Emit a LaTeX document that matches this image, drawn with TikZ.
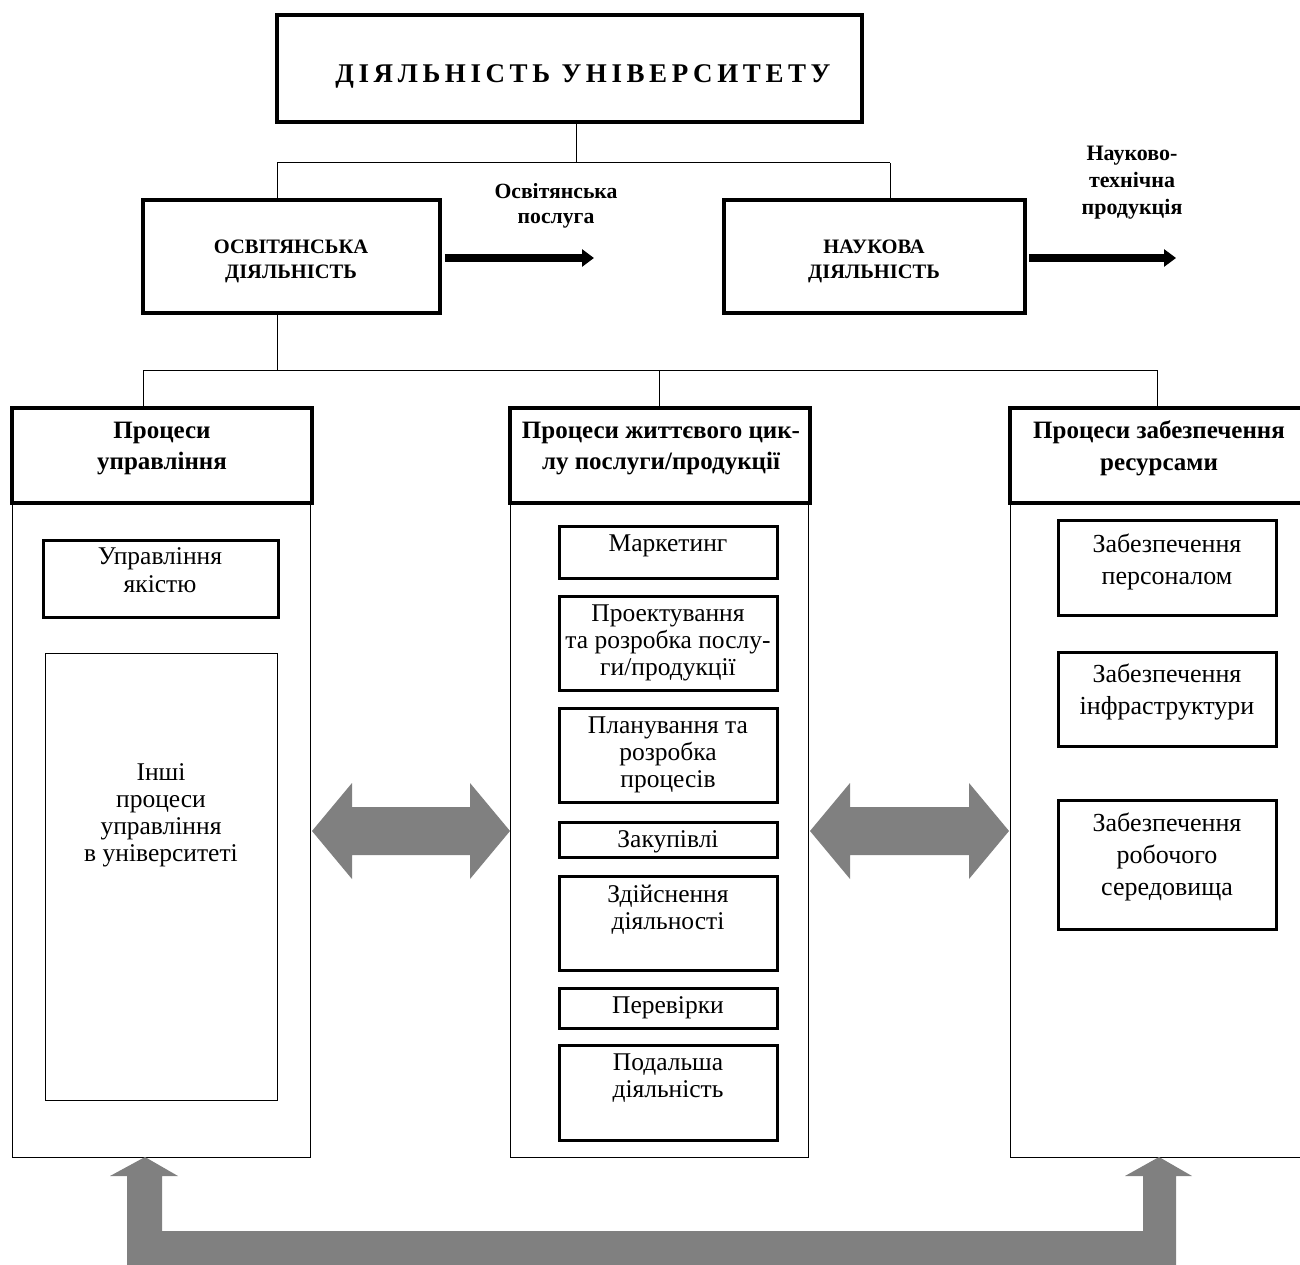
\documentclass[tikz,border=0pt]{standalone}
\usepackage{fontspec}
\setmainfont{Liberation Serif}
\newfontfamily\spacedfont[LetterSpace=17]{Liberation Serif}
\usetikzlibrary{arrows.meta}
\tikzset{
  thickbox/.style={draw, line width=3.5pt, inner sep=0pt, rectangle},
  innerbox/.style={draw, line width=3pt, inner sep=0pt, rectangle},
  thinbox/.style={draw, line width=1pt, inner sep=0pt, rectangle},
  conn/.style={line width=1pt},
  blackarrow/.style={line width=7pt, -{Triangle[length=12pt,width=17pt]}},
  txt/.style={align=center, inner sep=0pt},
  midbold/.style={txt, font=\fontsize{20.5}{25}\selectfont\bfseries},
  lblbold/.style={txt, font=\fontsize{21.7}{25}\selectfont\bfseries},
  lblboldb/.style={txt, font=\fontsize{22}{27}\selectfont\bfseries},
  headbold/.style={txt, font=\fontsize{25}{31.7}\selectfont\bfseries},
  coltwo/.style={txt, font=\fontsize{25.5}{27}\selectfont},
  colone/.style={txt, font=\fontsize{25.5}{28}\selectfont},
  colthree/.style={txt, font=\fontsize{26}{32}\selectfont},
  bigarrow/.style={fill=black!50, draw=none}
}
\begin{document}
\begin{tikzpicture}[x=1pt, y=-1pt]
\useasboundingbox (0,0) rectangle (1300,1265);
\clip (0,0) rectangle (1300,1265);
\fill[white] (0,0) rectangle (1300,1265);

% top
\node[thickbox, minimum width=585pt, minimum height=107pt] (top) at (569.5,68.5) {};
\node[txt, font=\fontsize{27}{30}\spacedfont\bfseries] (toptxt) at (583,76) {ДІЯЛЬНІСТЬ УНІВЕРСИТЕТУ};

% second level
\node[thickbox, minimum width=297pt, minimum height=113pt] (osv) at (291.5,256.5) {};
\node[midbold] (osvtxt) at (291,261) {ОСВІТЯНСЬКА\\ДІЯЛЬНІСТЬ};
\node[thickbox, minimum width=301pt, minimum height=113pt] (nauk) at (874.5,256.5) {};
\node[midbold] (nauktxt) at (874,261) {НАУКОВА\\ДІЯЛЬНІСТЬ};

\coordinate (busC) at (576,163);
\coordinate (busL) at (277,163);
\coordinate (busR) at (890,163);
\draw[conn] (top.south -| busC) -- (busC);
\draw[conn] (busL) -- (busR);
\draw[conn] (busL) -- (busL |- osv.north);
\draw[conn] (busR) -- (busR |- nauk.north);

% outputs
\coordinate (out1) at (594,258);
\coordinate (out2) at (1176,258);
\draw[blackarrow] ([xshift=3pt,yshift=-1.5pt]osv.east) -- (out1);
\draw[blackarrow] ([xshift=2pt,yshift=-1.5pt]nauk.east) -- (out2);
\node[lblbold] (lab1) at (556,205.7) {Освітянська\\послуга};
\node[lblboldb] (lab2) at (1132,182.5) {Науково-\\технічна\\продукція};

% columns
\node[thinbox, minimum width=298pt, minimum height=654pt] (b1) at (161,830) {};
\node[thinbox, minimum width=298pt, minimum height=654pt] (b2) at (659,830) {};
\node[thinbox, minimum width=300pt, minimum height=654pt] (b3) at (1160,830) {};
\node[thickbox, fill=white, minimum width=300pt, minimum height=95pt] (h1) at (162,455.5) {};
\node[thickbox, fill=white, minimum width=300pt, minimum height=95pt] (h2) at (660,455.5) {};
\node[thickbox, fill=white, minimum width=300pt, minimum height=95pt] (h3) at (1160,455.5) {};
\node[headbold] (h1txt) at (162,448.4) {Процеси\\управління};
\node[headbold] (h2txt) at (661,448.4) {Процеси життєвого цик-\\лу послуги/продукції};
\node[headbold] (h3txt) at (1159,448.4) {Процеси забезпечення\\ресурсами};

\coordinate (bus2T) at (277,370);
\coordinate (bus2L) at (143,370);
\coordinate (bus2M) at (659,370);
\coordinate (bus2R) at (1157,370);
\draw[conn] (osv.south -| bus2T) -- (bus2T);
\draw[conn] (bus2L) -- (bus2R);
\draw[conn] (bus2L) -- (bus2L |- h1.north);
\draw[conn] (bus2M) -- (bus2M |- h2.north);
\draw[conn] (bus2R) -- (bus2R |- h3.north);

% column 1 content
\node[innerbox, minimum width=235pt, minimum height=77pt] (qual) at (160.5,578.5) {};
\node[colone] (qualtxt) at (160,570.5) {Управління\\якістю};
\node[thinbox, minimum width=232pt, minimum height=447pt] (other) at (161,876.5) {};
\node[coltwo] (othertxt) at (161,815.3) {Інші\\процеси\\управління\\в університеті};

% column 2 content
\node[innerbox, minimum width=218pt, minimum height=52pt] (mk) at (668,552) {};
\node[coltwo] (mktxt) at (668,545.8) {Маркетинг};
\node[innerbox, minimum width=218pt, minimum height=94pt] (pr) at (668,643) {};
\node[coltwo] (prtxt) at (668,642.8) {Проектування\\та розробка послу-\\ги/продукції};
\node[innerbox, minimum width=218pt, minimum height=94pt] (pl) at (668,755) {};
\node[coltwo] (pltxt) at (668,754.8) {Планування та\\розробка\\процесів};
\node[innerbox, minimum width=218pt, minimum height=35pt] (zk) at (668,839.5) {};
\node[coltwo] (zktxt) at (668,841.8) {Закупівлі};
\node[innerbox, minimum width=218pt, minimum height=94pt] (zd) at (668,923) {};
\node[coltwo] (zdtxt) at (668,909.3) {Здійснення\\діяльності};
\node[innerbox, minimum width=218pt, minimum height=40pt] (pv) at (668,1008) {};
\node[coltwo] (pvtxt) at (668,1007.8) {Перевірки};
\node[innerbox, minimum width=218pt, minimum height=95pt] (pd) at (668,1092.5) {};
\node[coltwo] (pdtxt) at (668,1078.3) {Подальша\\діяльність};

% column 3 content
\node[innerbox, minimum width=218pt, minimum height=95pt] (per) at (1167,567.5) {};
\node[colthree] (pertxt) at (1167,562) {Забезпечення\\персоналом};
\node[innerbox, minimum width=218pt, minimum height=94pt] (inf) at (1167,699) {};
\node[colthree] (inftxt) at (1167,692) {Забезпечення\\інфраструктури};
\node[innerbox, minimum width=218pt, minimum height=129pt] (rob) at (1167,864.5) {};
\node[colthree] (robtxt) at (1167,857) {Забезпечення\\робочого\\середовища};

% grey double arrows
\fill[bigarrow] (312,831) -- (352,783) -- (352,807) -- (470,807) -- (470,783) -- (510,831)
  -- (470,879) -- (470,855) -- (352,855) -- (352,879) -- cycle;
\fill[bigarrow] (810,831) -- (850,783) -- (850,807) -- (969,807) -- (969,783) -- (1009,831)
  -- (969,879) -- (969,855) -- (850,855) -- (850,879) -- cycle;

% bottom U arrow
\fill[bigarrow] (127,1275) -- (127,1176) -- (110,1176) -- (145,1157) -- (178,1176) -- (162,1176)
  -- (162,1231) -- (1143,1231) -- (1143,1176) -- (1125,1176) -- (1159,1157) -- (1192,1176)
  -- (1176,1176) -- (1176,1275) -- cycle;
\end{tikzpicture}
\end{document}
